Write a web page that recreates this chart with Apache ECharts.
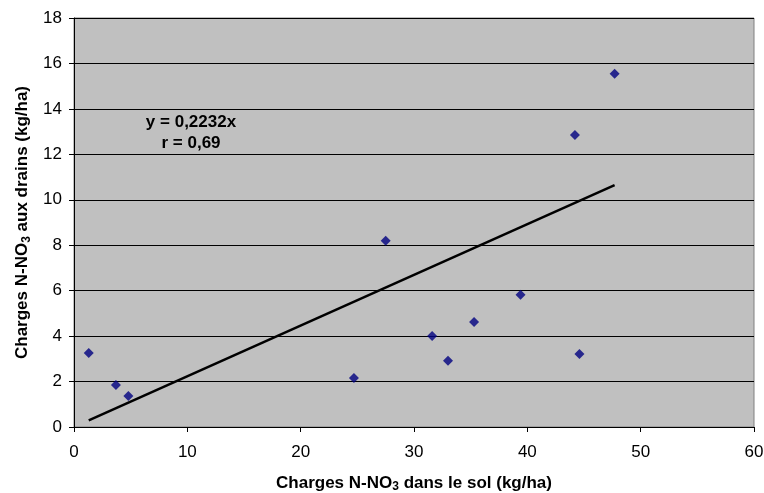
<!DOCTYPE html>
<html>
<head>
<meta charset="utf-8">
<script src="https://cdn.jsdelivr.net/npm/echarts@6/dist/echarts.min.js"></script>
<style>
  html, body { margin: 0; padding: 0; background: #fff; }
  #main { width: 764px; height: 493px; }
</style>
</head>
<body>
<div id="main"></div>
<script>
// nitrate loads: soil (x) vs drains (y), kg/ha
const soilLoad = [1.3, 3.7, 4.8, 24.7, 27.5, 31.6, 33.0, 35.3, 39.4, 44.6, 44.2, 47.7];
const drainLoad = [3.26, 1.85, 1.36, 2.16, 8.2, 4.0, 2.92, 4.62, 5.82, 3.21, 12.85, 15.55];
const slope = 0.2232;
const rValue = '0,69';

const points = soilLoad.map((x, i) => [x, drainLoad[i]]);
const xMin = Math.min.apply(null, soilLoad);
const xMax = Math.max.apply(null, soilLoad);
const trend = [[xMin, slope * xMin], [xMax, slope * xMax]];

const font = 'Liberation Sans, Arial, sans-serif';
const titleRich = {
  b: { fontFamily: font, fontWeight: 'bold', fontSize: 17, color: '#000' },
  s: { fontFamily: font, fontWeight: 'bold', fontSize: 12, color: '#000', verticalAlign: 'bottom', padding: [8, 0, 0, 0] }
};

const chart = echarts.init(document.getElementById('main'));
chart.setOption({
  animation: false,
  backgroundColor: '#fff',
  grid: {
    left: 74, right: 10, top: 18, bottom: 66,
    outerBoundsMode: 'none', containLabel: false,
    show: true, backgroundColor: '#C0C0C0', borderColor: '#808080', borderWidth: 1
  },
  xAxis: {
    type: 'value', min: 0, max: 60, interval: 10,
    name: '{b|Charges N-NO}{s|3}{b| dans le sol (kg/ha)}',
    nameLocation: 'middle', nameGap: 46,
    nameTextStyle: { rich: titleRich },
    axisLine: { onZero: false, lineStyle: { color: '#000', width: 1 } },
    axisTick: { show: true, length: 5, lineStyle: { color: '#000' } },
    axisLabel: { fontFamily: font, fontSize: 17, color: '#000', margin: 17 },
    splitLine: { show: false }
  },
  yAxis: {
    type: 'value', min: 0, max: 18, interval: 2,
    name: '{b|Charges N-NO}{s|3}{b| aux drains (kg/ha)}',
    nameLocation: 'middle', nameGap: 40, nameRotate: 90,
    nameTextStyle: { rich: titleRich },
    axisLine: { show: true, onZero: false, lineStyle: { color: '#000', width: 1 } },
    axisTick: { show: true, length: 5, lineStyle: { color: '#000' } },
    axisLabel: { fontFamily: font, fontSize: 17, color: '#000', margin: 12 },
    splitLine: { show: true, lineStyle: { color: '#000', width: 1 } }
  },
  series: [
    {
      type: 'line', data: trend, symbol: 'none',
      lineStyle: { color: '#000', width: 2.5 }, z: 3
    },
    {
      type: 'scatter', data: points, symbol: 'diamond', symbolSize: 10,
      itemStyle: { color: '#000080' }, z: 4
    }
  ],
  graphic: [
    {
      type: 'text', x: 191, y: 112,
      style: {
        text: 'y = 0,2232x\nr = ' + rValue, font: 'bold 17px ' + font,
        fill: '#000', lineHeight: 21, align: 'center'
      }
    }
  ]
});
</script>
</body>
</html>
